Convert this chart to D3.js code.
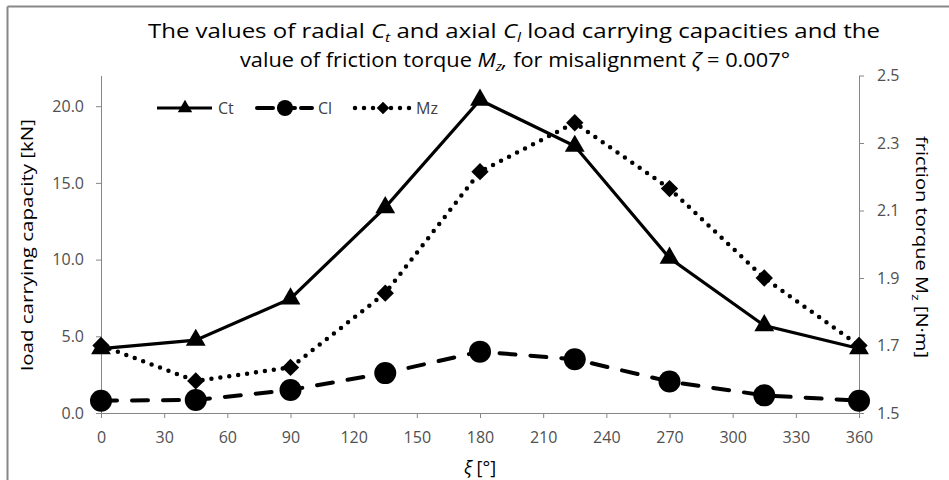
<!DOCTYPE html>
<html>
<head>
<meta charset="utf-8">
<script src="https://cdn.jsdelivr.net/npm/d3@7"></script>
<style>
  html, body { margin: 0; padding: 0; background: #fff; }
  svg { display: block; }
  text { font-family: "Open Sans", "Noto Sans", sans-serif; }
</style>
</head>
<body>
<svg id="chart" width="949" height="480"></svg>
<script>
// ---- data ----
const angles = [0, 45, 90, 135, 180, 225, 270, 315, 360];
const ctValues = [4.2, 4.75, 7.45, 13.4, 20.4, 17.4, 10.1, 5.7, 4.2];
const clValues = [0.8, 0.85, 1.5, 2.6, 4.0, 3.5, 2.05, 1.15, 0.8];
const mzValues = [1.70, 1.595, 1.635, 1.855, 2.215, 2.36, 2.165, 1.90, 1.70];
const xTicks = [0, 30, 60, 90, 120, 150, 180, 210, 240, 270, 300, 330, 360];
const leftTicks = [0, 5, 10, 15, 20];
const rightTicks = [1.5, 1.7, 1.9, 2.1, 2.3, 2.5];
const seriesNames = ["Ct", "Cl", "Mz"];

const svg = d3.select("#chart");
const W = 949, H = 480;
const plot = { left: 101, right: 859, top: 75.5, bottom: 413 };
const axisColor = "#868686";
const tickColor = "#505050";

// border (top and left visible)
svg.append("line").attr("x1", 7.5).attr("x2", W).attr("y1", 6.5).attr("y2", 6.5)
  .attr("stroke", "#878787").attr("stroke-width", 2);
svg.append("line").attr("x1", 7.5).attr("x2", 7.5).attr("y1", 6.5).attr("y2", H)
  .attr("stroke", "#878787").attr("stroke-width", 2);

const x = d3.scaleLinear().domain([0, 360]).range([plot.left, plot.right]);
const yL = d3.scaleLinear().domain([0, 22]).range([plot.bottom, plot.top]);
const yR = d3.scaleLinear().domain([1.5, 2.5]).range([plot.bottom, plot.top]);

function styleAxis(g) {
  g.attr("font-size", null).attr("font-family", null);
  g.select(".domain").attr("stroke", axisColor).attr("stroke-width", 1);
  g.selectAll(".tick line").attr("stroke", axisColor);
  g.selectAll(".tick text").attr("fill", tickColor)
    .style("font-family", "'Open Sans', sans-serif").style("font-size", "16px");
}

// x axis
const gx = svg.append("g").attr("transform", `translate(0,${plot.bottom})`)
  .call(d3.axisBottom(x).tickValues(xTicks).tickSize(5).tickSizeOuter(0).tickPadding(14));
styleAxis(gx);

// left axis
const gl = svg.append("g").attr("transform", `translate(${plot.left},0)`)
  .call(d3.axisLeft(yL).tickValues(leftTicks).tickFormat(d3.format(".1f")).tickSize(5).tickSizeOuter(0).tickPadding(12));
styleAxis(gl);

// right axis
const gr = svg.append("g").attr("transform", `translate(${plot.right},0)`)
  .call(d3.axisRight(yR).tickValues(rightTicks).tickFormat(d3.format(".1f")).tickSize(5).tickSizeOuter(0).tickPadding(13));
styleAxis(gr);

// lines
const lineCt = d3.line().x((d, i) => x(angles[i])).y(d => yL(d));
const lineMz = d3.line().x((d, i) => x(angles[i])).y(d => yR(d));

svg.append("path").datum(clValues).attr("d", lineCt)
  .attr("fill", "none").attr("stroke", "#000").attr("stroke-width", 4)
  .attr("stroke-dasharray", "16,15").attr("stroke-linecap", "round");
svg.append("path").datum(mzValues).attr("d", lineMz)
  .attr("fill", "none").attr("stroke", "#000").attr("stroke-width", 4.5)
  .attr("stroke-dasharray", "0,9").attr("stroke-linecap", "round");
svg.append("path").datum(ctValues).attr("d", lineCt)
  .attr("fill", "none").attr("stroke", "#000").attr("stroke-width", 3.2);

// markers
const triSym = d3.symbol().type(d3.symbolTriangle);
const diaSym = d3.symbol().type(d3.symbolSquare);

svg.append("g").selectAll("circle").data(clValues).join("circle")
  .attr("cx", (d, i) => x(angles[i])).attr("cy", d => yL(d)).attr("r", 11).attr("fill", "#000");
svg.append("g").selectAll("path").data(mzValues).join("path")
  .attr("d", diaSym.size(150)())
  .attr("transform", (d, i) => `translate(${x(angles[i])},${yR(d)}) rotate(45)`).attr("fill", "#000");
svg.append("g").selectAll("path").data(ctValues).join("path")
  .attr("d", triSym.size(170)())
  .attr("transform", (d, i) => `translate(${x(angles[i])},${yL(d)})`).attr("fill", "#000");

// legend
const legY = 108;
const leg = svg.append("g");
const legItems = [
  { name: seriesNames[0], x0: 157, dash: null, w: 3.2, cap: "butt", marker: "tri" },
  { name: seriesNames[1], x0: 257, dash: "16,6", w: 4, cap: "round", marker: "circ" },
  { name: seriesNames[2], x0: 355, dash: "0,9", w: 4.5, cap: "round", marker: "dia" }
];
legItems.forEach(it => {
  const g = leg.append("g");
  const ln = g.append("line").attr("x1", it.x0).attr("x2", it.x0 + 55).attr("y1", legY).attr("y2", legY)
    .attr("stroke", "#000").attr("stroke-width", it.w).attr("stroke-linecap", it.cap);
  if (it.dash) ln.attr("stroke-dasharray", it.dash);
  const cx = it.x0 + 28;
  if (it.marker === "tri") g.append("path").attr("d", triSym.size(90)()).attr("transform", `translate(${cx},${legY})`);
  if (it.marker === "circ") g.append("circle").attr("cx", cx).attr("cy", legY).attr("r", 8);
  if (it.marker === "dia") g.append("path").attr("d", diaSym.size(80)()).attr("transform", `translate(${cx},${legY}) rotate(45)`);
  g.append("text").attr("x", it.x0 + 61).attr("y", legY + 6).text(it.name)
    .attr("fill", "#404040").style("font-size", "16px");
});

// title
const t1 = svg.append("text").attr("x", 514).attr("y", 38).attr("text-anchor", "middle")
  .style("font-size", "20px").attr("fill", "#000")
  .attr("textLength", 732).attr("lengthAdjust", "spacingAndGlyphs");
t1.append("tspan").text("The values of radial ");
t1.append("tspan").style("font-style", "italic").text("C");
t1.append("tspan").style("font-style", "italic").attr("dy", 4).style("font-size", "13px").text("t");
t1.append("tspan").attr("dy", -4).text(" and axial  ");
t1.append("tspan").style("font-style", "italic").text("C");
t1.append("tspan").style("font-style", "italic").attr("dy", 4).style("font-size", "13px").text("l");
t1.append("tspan").attr("dy", -4).text(" load carrying capacities and the");

const t2 = svg.append("text").attr("x", 515).attr("y", 67).attr("text-anchor", "middle")
  .style("font-size", "20px").attr("fill", "#000")
  .attr("textLength", 550).attr("lengthAdjust", "spacingAndGlyphs");
t2.append("tspan").text("value of friction torque ");
t2.append("tspan").style("font-style", "italic").text("M");
t2.append("tspan").style("font-style", "italic").attr("dy", 4).style("font-size", "13px").text("z");
t2.append("tspan").attr("dy", -4).style("font-style", "italic").text(",");
t2.append("tspan").text(" for misalignment ");
t2.append("tspan").style("font-style", "italic").text("ζ");
t2.append("tspan").text(" = 0.007°");

// axis titles
svg.append("text").attr("transform", `translate(33,245) rotate(-90)`).attr("text-anchor", "middle")
  .style("font-size", "16px").attr("fill", "#000")
  .attr("textLength", 252).attr("lengthAdjust", "spacingAndGlyphs")
  .text("load carrying capacity [kN]");

const rt = svg.append("text").attr("transform", `translate(916,247) rotate(90)`).attr("text-anchor", "middle")
  .style("font-size", "16px").attr("fill", "#000")
  .attr("textLength", 222).attr("lengthAdjust", "spacingAndGlyphs");
rt.append("tspan").text("friction torque M");
rt.append("tspan").attr("dy", 4).style("font-size", "11px").text("z");
rt.append("tspan").attr("dy", -4).text(" [N·m]");

const xt = svg.append("text").attr("x", 480).attr("y", 474).attr("text-anchor", "middle")
  .style("font-size", "18px").attr("fill", "#000");
xt.append("tspan").style("font-style", "italic").text("ξ");
xt.append("tspan").text(" [°]");
</script>
</body>
</html>
